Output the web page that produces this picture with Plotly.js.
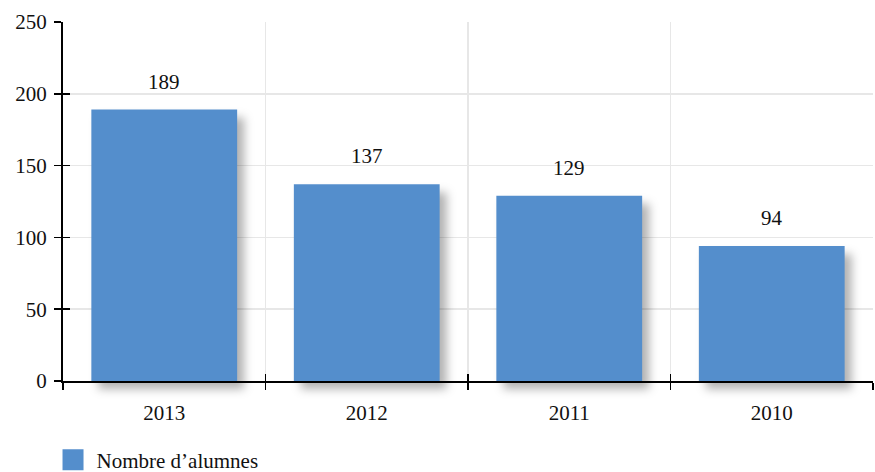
<!DOCTYPE html>
<html>
<head>
<meta charset="utf-8">
<script src="https://cdn.plot.ly/plotly-3.0.1.min.js"></script>
<style>
  html, body { margin: 0; padding: 0; background: #fff; }
  #chart { width: 875px; height: 472px; }
  #chart .cartesianlayer .plot,
  #chart .barlayer, #chart .barlayer * { clip-path: none !important; }
  #chart .bars .point path { filter: drop-shadow(7px 8px 5px rgba(0,0,0,0.3)); }
</style>
</head>
<body>
<div id="chart"></div>
<script>
const years = ['2013', '2012', '2011', '2010'];
const alumnes = [189, 137, 129, 94];
const seriesName = 'Nombre d’alumnes';
const yTicks = [0, 50, 100, 150, 200, 250];

const FONT = 'Liberation Serif, Times New Roman, serif';
const barColor = '#548ECC';

const traces = [
  {
    type: 'bar',
    x: years,
    y: alumnes,
    name: seriesName,
    marker: { color: barColor, line: { width: 0 } },
    cliponaxis: false,
    hoverinfo: 'x+y'
  },
  {
    type: 'scatter',
    mode: 'markers',
    x: years,
    y: alumnes,
    xaxis: 'x2',
    yaxis: 'y2',
    marker: { opacity: 0 },
    showlegend: false,
    hoverinfo: 'skip'
  }
];

// category axes treat numeric-looking strings as indices in annotations, so use the index
const annotations = years.map((yr, i) => ({
  x: i,
  y: alumnes[i],
  xref: 'x',
  yref: 'y',
  text: String(alumnes[i]),
  showarrow: false,
  yanchor: 'bottom',
  yshift: 14,
  font: { family: FONT, size: 21, color: '#111' }
}));

const layout = {
  width: 875,
  height: 472,
  margin: { l: 63, r: 2, t: 22, b: 91, autoexpand: false },
  paper_bgcolor: '#ffffff',
  plot_bgcolor: '#ffffff',
  font: { family: FONT, size: 21, color: '#111' },
  bargap: 0.28,
  showlegend: true,
  legend: {
    orientation: 'h',
    x: -0.008,
    xanchor: 'left',
    y: -0.22,
    yanchor: 'middle',
    font: { family: FONT, size: 21, color: '#111' },
    bgcolor: 'rgba(0,0,0,0)'
  },
  xaxis: {
    type: 'category',
    categoryorder: 'array',
    categoryarray: years,
    range: [-0.5, years.length - 0.5],
    tickson: 'boundaries',
    ticks: 'outside',
    ticklen: 7,
    tickwidth: 1.5,
    tickcolor: '#000',
    showline: true,
    linecolor: '#000',
    linewidth: 2,
    showgrid: true,
    gridcolor: '#e7e7e7',
    gridwidth: 1.5,
    ticklabelstandoff: 12,
    automargin: false,
    tickfont: { family: FONT, size: 21, color: '#111' },
    fixedrange: true
  },
  yaxis: {
    range: [0, 250],
    tickvals: yTicks,
    ticks: 'outside',
    ticklen: 7,
    tickwidth: 1.5,
    tickcolor: '#000',
    showline: true,
    linecolor: '#000',
    linewidth: 2,
    showgrid: true,
    gridcolor: '#e7e7e7',
    gridwidth: 1.5,
    zeroline: false,
    ticklabelstandoff: 3,
    automargin: false,
    tickfont: { family: FONT, size: 21, color: '#111' },
    fixedrange: true
  },
  xaxis2: {
    type: 'category',
    overlaying: 'x',
    categoryorder: 'array',
    categoryarray: years,
    range: [-0.5, years.length - 0.5],
    tickson: 'boundaries',
    ticks: 'inside',
    ticklen: 7,
    tickwidth: 1.5,
    tickcolor: '#000',
    showticklabels: false,
    showgrid: false,
    showline: false,
    zeroline: false,
    side: 'bottom',
    fixedrange: true
  },
  yaxis2: {
    overlaying: 'y',
    range: [0, 250],
    tickvals: yTicks,
    ticks: 'inside',
    ticklen: 7,
    tickwidth: 1.5,
    tickcolor: '#000',
    showticklabels: false,
    showgrid: false,
    showline: false,
    zeroline: false,
    side: 'left',
    fixedrange: true
  },
  annotations: annotations
};

function enlargeLegendSwatch(gd) {
  gd.querySelectorAll('.legend .legendpoints path').forEach(p => {
    const t = p.getAttribute('transform') || '';
    if (t.indexOf('scale(1.75)') === -1) {
      p.setAttribute('transform', t + ' translate(-3.5,0) scale(1.75)');
    }
  });
}

Plotly.newPlot('chart', traces, layout, { displayModeBar: false, staticPlot: true })
  .then(gd => {
    enlargeLegendSwatch(gd);
    gd.on('plotly_afterplot', () => enlargeLegendSwatch(gd));
  });
</script>
</body>
</html>
